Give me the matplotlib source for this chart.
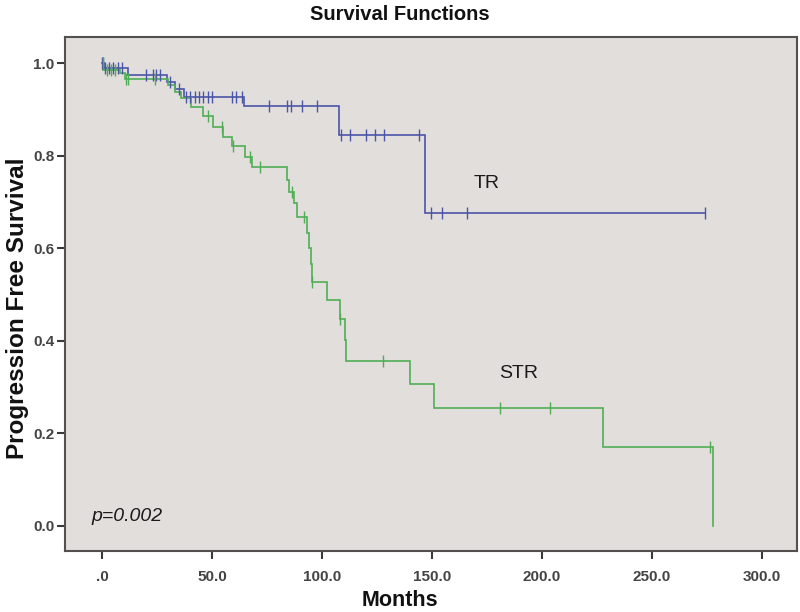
import numpy as np
import matplotlib
matplotlib.use("Agg")
import matplotlib.pyplot as plt

# ---- data ----
tr_event_times = [1.0, 11.7, 29.6, 33.0, 37.0, 64.5, 107.7, 146.7]
tr_surv = [0.990, 0.975, 0.960, 0.944, 0.927, 0.907, 0.845, 0.676]
tr_censor = [0.0, 0.5, 1.5, 3.0, 5.0, 7.0, 9.0, 20.0, 23.3, 24.5, 26.2, 31.0,
             35.0, 38.0, 40.0, 42.0, 44.0, 46.0, 48.0, 50.0, 59.0, 61.0, 63.5,
             75.9, 84.0, 86.0, 90.9, 97.7, 108.5, 112.6, 119.9, 124.0, 127.9,
             144.1, 149.7, 154.7, 165.9, 274.0]

str_event_times = [0.5, 8.0, 10.3, 30.0, 33.0, 36.0, 40.6, 45.9, 50.5, 55.0,
                   58.8, 64.9, 67.9, 83.8, 85.0, 87.0, 88.5, 92.9, 94.1, 95.0,
                   95.6, 102.0, 108.0, 110.3, 111.0, 139.9, 151.0, 227.7, 277.7]
str_surv = [0.985, 0.978, 0.965, 0.952, 0.938, 0.924, 0.906, 0.885, 0.862, 0.841,
            0.820, 0.798, 0.776, 0.748, 0.722, 0.697, 0.668, 0.632, 0.600, 0.565,
            0.528, 0.487, 0.446, 0.402, 0.357, 0.306, 0.255, 0.170, 0.0]
str_censor = [0.3, 2.0, 4.0, 6.0, 10.8, 11.8, 24.0, 48.2, 54.3, 59.6, 67.1, 71.7,
              86.1, 91.7, 95.6, 108.0, 127.7, 181.0, 203.8, 276.2]

xticks = [0, 50, 100, 150, 200, 250, 300]
xtick_labels = [".0", "50.0", "100.0", "150.0", "200.0", "250.0", "300.0"]
yticks = [0.0, 0.2, 0.4, 0.6, 0.8, 1.0]
ytick_labels = ["0.0", "0.2", "0.4", "0.6", "0.8", "1.0"]

BLUE = "#4b55a8"
GREEN = "#4fae55"
BG = "#e2dedb"

plt.rcParams['font.family'] = ['Liberation Sans', 'DejaVu Sans']

fig = plt.figure(figsize=(8.0, 6.12), dpi=100)
ax = fig.add_axes([0.081, 0.0997, 0.915, 0.8393])
ax.set_facecolor(BG)


def step_xy(times, surv, end):
    xs = [0.0]
    ys = [1.0]
    cur = 1.0
    for t, s in zip(times, surv):
        xs += [t, t]
        ys += [cur, s]
        cur = s
    if end > xs[-1]:
        xs.append(end)
        ys.append(cur)
    return np.array(xs), np.array(ys)


def surv_at(times, surv, t):
    cur = 1.0
    for tt, s in zip(times, surv):
        if tt <= t:
            cur = s
    return cur


for times, surv, cens, col in [(tr_event_times, tr_surv, tr_censor, BLUE),
                               (str_event_times, str_surv, str_censor, GREEN)]:
    end = max(max(times), max(cens))
    xs, ys = step_xy(times, surv, end)
    ax.plot(xs, ys, color=col, lw=1.2, solid_joinstyle='miter', zorder=3)
    cy = [surv_at(times, surv, c) for c in cens]
    ax.plot(cens, cy, ls='none', marker='|', ms=9, mew=1.0, color=col, zorder=4)

ax.set_xlim(-17, 315.8)
ax.set_ylim(-0.0547, 1.056)
ax.set_xticks(xticks)
ax.set_xticklabels(xtick_labels)
ax.set_yticks(yticks)
ax.set_yticklabels(ytick_labels)
ax.tick_params(axis='both', direction='out', length=6, width=1.5, colors='#3a3a3a',
               labelsize=11)
ax.tick_params(axis='y', pad=1.5)
ax.tick_params(axis='x', pad=8)
for lab in ax.get_xticklabels() + ax.get_yticklabels():
    lab.set_fontweight('bold')
    lab.set_color('#444444')
for sp in ax.spines.values():
    sp.set_color('#555050')
    sp.set_linewidth(1.5)

ax.text(175, 0.741, "TR", fontsize=14, color='#1a1a1a', ha='center', va='center')
ax.text(189.4, 0.33, "STR", fontsize=14, color='#1a1a1a', ha='center', va='center')
ax.text(-5, 0.02, "p=0.002", fontsize=14, style='italic', color='#1a1a1a',
        ha='left', va='center')

fig.text(0.5, 0.977, "Survival Functions", ha='center', va='center',
         fontsize=14.5, fontweight='bold', color='#111111')
fig.text(0.5, 0.018, "Months", ha='center', va='center',
         fontsize=15.5, fontweight='bold', color='#111111')
fig.text(0.022, 0.497, "Progression Free Survival", ha='center', va='center',
         rotation=90, fontsize=17.5, fontweight='bold', color='#111111')

fig.savefig("out.png", dpi=100)
